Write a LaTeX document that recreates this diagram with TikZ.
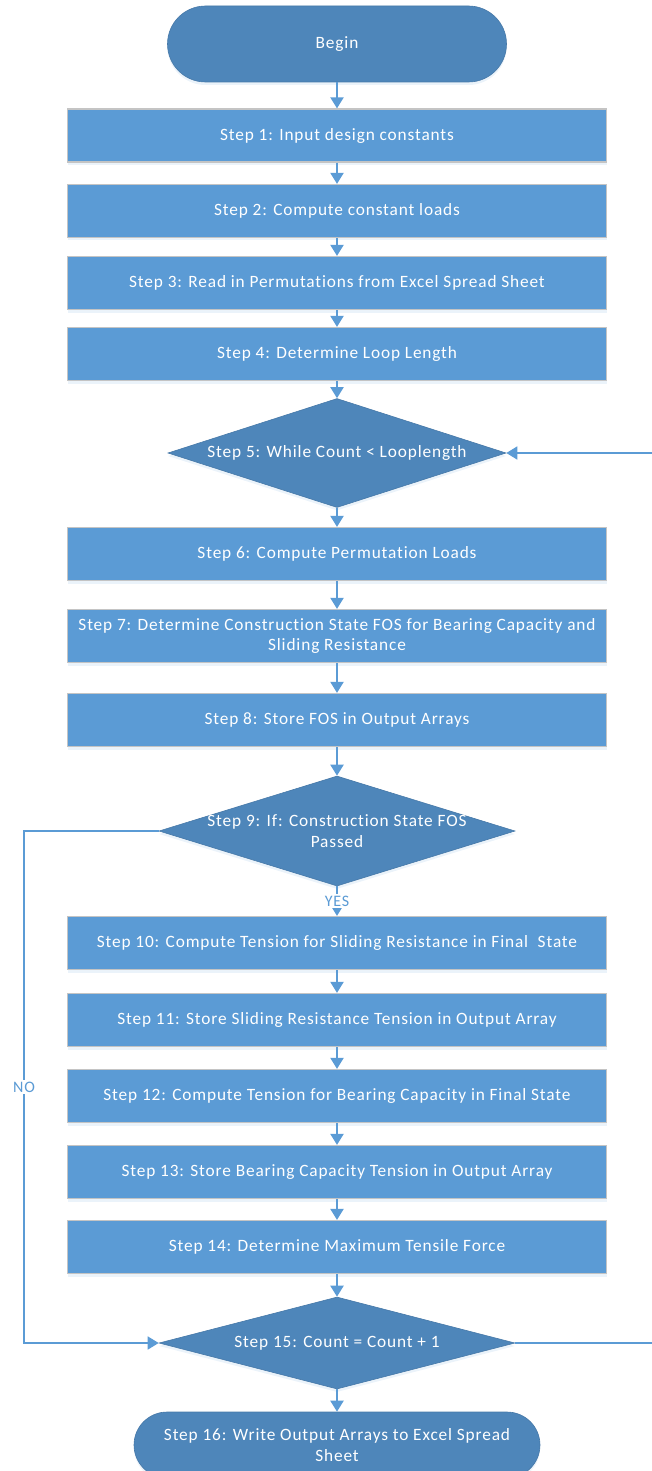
\documentclass[tikz,border=0pt]{standalone}
\usepackage{fontspec}
\setmainfont{Carlito}[LetterSpace=5,Ligatures={NoCommon}]
\usetikzlibrary{shapes.geometric,arrows.meta,shadows}
\definecolor{boxblue}{HTML}{5B9BD5}
\definecolor{darkblue}{HTML}{4E86BA}
\definecolor{edgeblue}{HTML}{4779A8}
\definecolor{linkblue}{HTML}{5B9BD5}
\definecolor{boxedge}{HTML}{C4C4C4}
\tikzset{
  base/.style={font=\fontsize{17.3}{20.5}\selectfont, text=white, align=center, inner sep=0pt},
  stepbox/.style={base, rectangle, fill=boxblue, draw=boxedge, line width=1.2pt,
    minimum width=539pt, minimum height=53pt,
    drop shadow={shadow xshift=0pt, shadow yshift=-3pt, opacity=0.12, fill=linkblue}},
  dia/.style={diamond, fill=darkblue, draw=edgeblue, line width=0.6pt, inner sep=0pt,
    drop shadow={shadow xshift=0pt, shadow yshift=-3pt, opacity=0.12, fill=linkblue}},
  diatext/.style={base},
  term/.style={base, rectangle, fill=darkblue, draw=edgeblue, line width=0.6pt,
    drop shadow={shadow xshift=0pt, shadow yshift=-3pt, opacity=0.12, fill=linkblue}},
  link/.style={draw=linkblue, line width=2pt, -{Triangle[width=13pt,length=11pt]}},
  loop/.style={draw=linkblue, line width=1.6pt},
  tag/.style={font=\fontsize{16}{19}\selectfont, text=linkblue, fill=white, inner sep=1.5pt},
}
\begin{document}
\begin{tikzpicture}[x=1pt,y=-1pt]
\useasboundingbox (0,0) rectangle (652,1471);
\node[term, minimum width=339pt, minimum height=76pt, rounded corners=38pt] (b) at (337,44) {Begin};
\node[stepbox] (s1) at (337,135.5) {Step 1: Input design constants};
\node[stepbox] (s2) at (337,211) {Step 2: Compute constant loads};
\node[stepbox] (s3) at (337,283) {Step 3: Read in Permutations from Excel Spread Sheet};
\node[stepbox] (s4) at (337,354) {Step 4: Determine Loop Length};
\node[dia, minimum width=338pt, minimum height=109pt] (s5) at (337,453) {};
\node[diatext] (s5t) at (337,453) {Step 5: While Count < Looplength};
\node[stepbox] (s6) at (337,554) {Step 6: Compute Permutation Loads};
\node[stepbox] (s7) at (337,636) {Step 7: Determine Construction State FOS for Bearing Capacity and\\Sliding Resistance};
\node[stepbox] (s8) at (337,720) {Step 8: Store FOS in Output Arrays};
\node[dia, minimum width=356pt, minimum height=110pt] (s9) at (337,831) {};
\node[diatext] (s9t) at (337,831) {Step 9: If: Construction State FOS\\Passed};
\node[stepbox] (s10) at (337,943) {Step 10: Compute Tension for Sliding Resistance in Final\ \ State};
\node[stepbox] (s11) at (337,1020) {Step 11: Store Sliding Resistance Tension in Output Array};
\node[stepbox] (s12) at (337,1096) {Step 12: Compute Tension for Bearing Capacity in Final State};
\node[stepbox] (s13) at (337,1172) {Step 13: Store Bearing Capacity Tension in Output Array};
\node[stepbox] (s14) at (337,1247) {Step 14: Determine Maximum Tensile Force};
\node[dia, minimum width=356pt, minimum height=92pt] (s15) at (337,1343) {};
\node[diatext] (s15t) at (337,1343) {Step 15: Count = Count + 1};
\node[term, minimum width=406pt, minimum height=66pt, rounded corners=33pt] (s16) at (337,1445) {Step 16: Write Output Arrays to Excel Spread\\Sheet};
\coordinate (nol) at (24,831);
\coordinate (nob) at (24,1343);
\coordinate (rt) at (670,1343);
\coordinate (rb) at (670,453);
\draw[link] (b) -- (s1);
\draw[link] (s1) -- (s2);
\draw[link] (s2) -- (s3);
\draw[link] (s3) -- (s4);
\draw[link] (s4) -- (s5);
\draw[link] (s5) -- (s6);
\draw[link] (s6) -- (s7);
\draw[link] (s7) -- (s8);
\draw[link] (s8) -- (s9);
\draw[link] (s9) -- node[tag] (yes) {YES} (s10);
\draw[link] (s10) -- (s11);
\draw[link] (s11) -- (s12);
\draw[link] (s12) -- (s13);
\draw[link] (s13) -- (s14);
\draw[link] (s14) -- (s15);
\draw[link] (s15) -- (s16);
\draw[loop, -{Triangle[width=13pt,length=11pt]}] (s9.west) -- (nol) -- node[tag, pos=0.5] (no) {NO} (nob) -- (s15.west);
\draw[loop, -{Triangle[width=13pt,length=11pt]}] (s15.east) -- (rt) -- (rb) -- (s5.east);
\end{tikzpicture}
\end{document}
